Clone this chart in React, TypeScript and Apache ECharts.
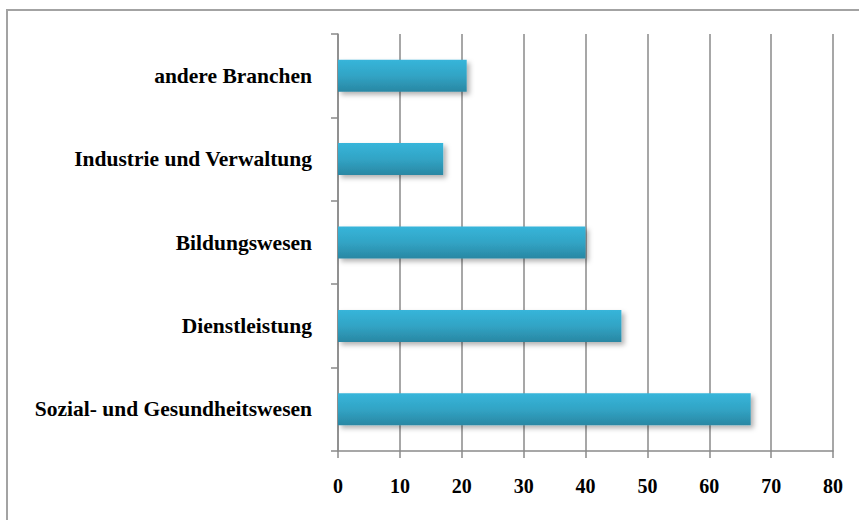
import React, { useEffect, useRef } from "react";
import * as echarts from "echarts";

// Branchen, listed bottom to top as the category axis draws them
const categories = [
  "Sozial- und Gesundheitswesen",
  "Dienstleistung",
  "Bildungswesen",
  "Industrie und Verwaltung",
  "andere Branchen",
];
const values = [66.7, 45.8, 40, 17, 20.8];
const xTicks = { min: 0, max: 80, interval: 10 };

const FONT = "'Liberation Serif', 'DejaVu Serif', serif";
const GRID_GRAY = "#8a8a8a";

export default function App() {
  const ref = useRef<HTMLDivElement>(null);

  useEffect(() => {
    if (!ref.current) return;
    const chart = echarts.init(ref.current, null, { renderer: "svg" });
    chart.setOption({
      animation: false,
      backgroundColor: "#ffffff",
      graphic: [
        {
          type: "rect",
          shape: { x: 7, y: 10, width: 900, height: 600 },
          style: { fill: "none", stroke: "#a3a3a3", lineWidth: 2 },
          silent: true,
        },
      ],
      grid: { left: 338, right: 26, top: 34, bottom: 69, containLabel: false },
      xAxis: {
        type: "value",
        min: xTicks.min,
        max: xTicks.max,
        interval: xTicks.interval,
        axisLine: { show: true, lineStyle: { color: GRID_GRAY, width: 1.5 } },
        axisTick: { show: true, length: 7, lineStyle: { color: GRID_GRAY, width: 1.5 } },
        splitLine: { show: true, lineStyle: { color: GRID_GRAY, width: 1.5 } },
        axisLabel: {
          margin: 25,
          color: "#000",
          fontFamily: FONT,
          fontSize: 20,
          fontWeight: "bold",
        },
      },
      yAxis: {
        type: "category",
        data: categories,
        axisLine: { show: true, lineStyle: { color: GRID_GRAY, width: 1.5 } },
        axisTick: { show: true, length: 7, lineStyle: { color: GRID_GRAY, width: 1.5 } },
        axisLabel: {
          margin: 26,
          color: "#000",
          fontFamily: FONT,
          fontSize: 21.5,
          fontWeight: "bold",
        },
      },
      series: [
        {
          type: "bar",
          data: values,
          barWidth: 32,
          itemStyle: {
            color: new echarts.graphic.LinearGradient(0, 0, 0, 1, [
              { offset: 0, color: "#37b5da" },
              { offset: 0.5, color: "#31a4c5" },
              { offset: 1, color: "#2a87a3" },
            ]),
            shadowBlur: 5,
            shadowOffsetX: 3,
            shadowOffsetY: 3,
            shadowColor: "rgba(0,0,0,0.3)",
          },
        },
      ],
    });
    return () => chart.dispose();
  }, []);

  return (
    <div
      ref={ref}
      style={{ position: "absolute", left: 0, top: 0, width: 859, height: 520 }}
    />
  );
}
